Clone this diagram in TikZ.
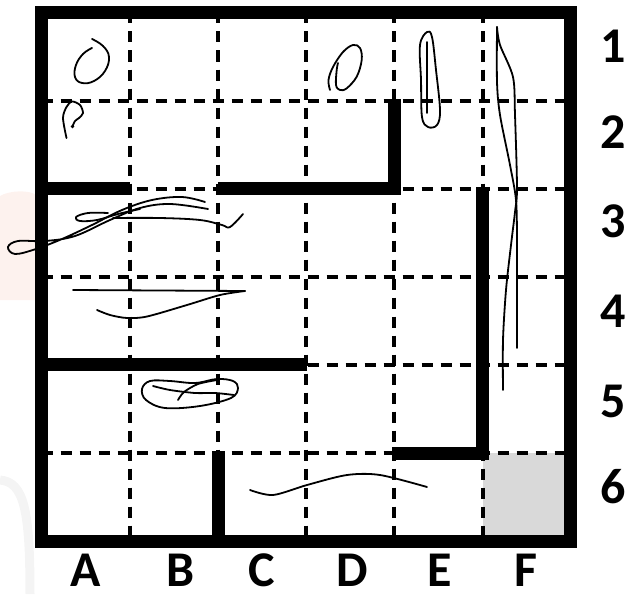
\documentclass[tikz,border=0pt]{standalone}
\usepackage{fontspec}
\setmainfont{Carlito}
\definecolor{cellgray}{RGB}{217,217,217}
\definecolor{wmpink}{RGB}{253,242,238}
\definecolor{wmgray}{RGB}{244,244,244}
\begin{document}
\begin{tikzpicture}[x=1pt,y=-1pt,
  wall/.style={line width=13pt,line join=miter},
  gridline/.style={line width=4pt,dash pattern=on 11pt off 8pt},
  pen/.style={line width=1.8pt,line cap=round,line join=round},
  lab/.style={font=\fontsize{50}{50}\selectfont\bfseries,inner sep=0pt,text depth=0pt,anchor=base}]
\useasboundingbox (0,0) rectangle (628,594);
% faint watermark traces
\fill[wmpink] (0,196) .. controls (10,190) and (30,190) .. (36,195) -- (36,300) -- (0,300) -- cycle;
\draw[wmgray,line width=9pt] (0,480) .. controls (24,482) and (30,510) .. (30,594);
% goal cell
\fill[cellgray] (482.6,453) rectangle (570.8,541);
% dashed grid
\foreach \x in {129.7,218,306.2,394.4,482.6}
  \draw[gridline] (\x,12.5) -- (\x,541);
\foreach \y in {100.6,188.7,276.8,364.9,453}
  \draw[gridline] (41.5,\y) -- (570.8,\y);
% walls
\draw[wall] (41.5,188.7) -- (129.7,188.7);
\draw[wall] (218,188.7) -- (394.4,188.7) -- (394.4,98.5);
\draw[wall] (482.6,187) -- (482.6,453) -- (392.4,453);
\draw[wall] (41.5,364.9) -- (307,364.9);
\draw[wall] (218,451) -- (218,541);
\draw[wall] (41.5,12.5) rectangle (570.8,541);
% handwritten marks
\draw[pen] plot[smooth,tension=0.7] coordinates {(92,39) (103,46) (109,57) (105,71) (94,81) (82,83) (75,77) (76,65) (83,54) (92,48)};
\draw[pen] plot[smooth] coordinates {(66.5,138) (63,118) (66.5,107) (72,101.5) (80,105) (83,113) (79,118) (75,121) (72.5,126.5)};
\fill (72.5,126.5) circle (1.8);
\draw[pen] plot[smooth,tension=0.6] coordinates {(205,202) (182,197) (152,200) (122,210) (92,225) (62,239) (36,249) (15,254) (8,247) (18,241) (45,241) (75,236) (110,220) (140,208) (170,204) (208,209)};
\draw[pen] plot[smooth,tension=0.6] coordinates {(108,213) (88,213) (76,217) (80,221) (97,220) (118,214) (140,209)};
\draw[pen] plot[smooth,tension=0.6] coordinates {(113,218) (160,218) (200,220) (222,225) (230,227) (243,214)};
\draw[pen] (73,290) -- (245,291);
\draw[pen] plot[smooth] coordinates {(245,291) (220,295) (187,305) (147,316.5) (127,318) (110,315) (97,310)};
\draw[pen] plot[smooth cycle,tension=0.6] coordinates {(142,389) (150,381) (170,381) (195,383) (217,379) (233,381) (238,388) (231,398) (200,406) (165,408) (146,400)};
\draw[pen] plot[smooth] coordinates {(153,386) (170,390) (195,393) (215,393) (234,395)};
\draw[pen] plot[smooth] coordinates {(178,400) (184,392) (198,384) (217,380)};
\draw[pen] plot[smooth] coordinates {(250,490) (273,495) (307,485) (347,475) (380,475) (427,487)};
\draw[pen] plot[smooth,tension=0.6] coordinates {(330,90) (328.5,80) (333,67) (343,52) (353,45) (360,48) (361.7,60) (356.7,76.7) (346.7,88.3) (340,90) (336,85) (336.7,70) (338,63)};
\draw[pen] plot[smooth cycle,tension=0.6] coordinates {(427,32) (420,45) (421,80) (422,117) (428,127) (437,125) (440,110) (436,70) (432,37)};
\draw[pen] (427,42) -- (427,113);
\draw[pen] plot[smooth,tension=0.5] coordinates {(497,27) (497,82) (500,115) (510,165) (516,200) (517,240) (517,300) (517,348)};
\draw[pen] plot[smooth,tension=0.5] coordinates {(497,27) (500,45) (513,77) (515,115) (517,188) (515,212) (511,245) (506,290) (503,340) (503,390)};
% labels
\node[lab] (r1) at (613,63) {1};
\node[lab] (r2) at (613,148) {2};
\node[lab] (r3) at (613,237) {3};
\node[lab] (r4) at (613,327) {4};
\node[lab] (r5) at (613,417) {5};
\node[lab] (r6) at (613,503) {6};
\node[lab] (cA) at (86,586) {A};
\node[lab] (cB) at (181,586) {B};
\node[lab] (cC) at (262,586) {C};
\node[lab] (cD) at (352,586) {D};
\node[lab] (cE) at (440,586) {E};
\node[lab] (cF) at (526,586) {F};
\end{tikzpicture}
\end{document}
